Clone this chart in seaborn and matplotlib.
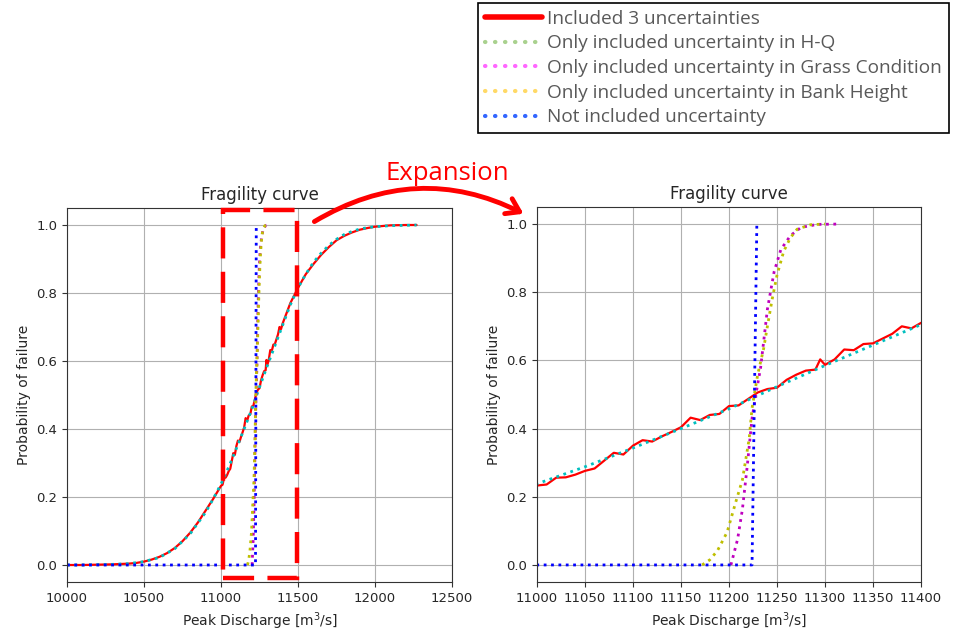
import numpy as np
import pandas as pd
import seaborn as sns
import matplotlib
matplotlib.use("Agg")
import matplotlib.pyplot as plt
from matplotlib.lines import Line2D
from matplotlib.patches import Rectangle, FancyArrowPatch

# ---- data ----
# all three uncertainties (red, solid)
q_all3 = [10000, 10100, 10200, 10300, 10400, 10450, 10500, 10550, 10600, 10650,
          10700, 10750, 10800, 10850, 10900, 10950,
          11000, 11010, 11020, 11030, 11040, 11050, 11060, 11070, 11080, 11090,
          11100, 11110, 11120, 11130, 11140, 11150, 11160, 11170, 11180, 11190,
          11200, 11210, 11220, 11230, 11240, 11250, 11260, 11270, 11280, 11290,
          11295, 11300, 11310, 11320, 11330, 11340, 11350, 11360, 11370, 11380,
          11390, 11400,
          11450, 11500, 11550, 11600, 11650, 11700, 11750, 11800, 11850, 11900,
          11950, 12000, 12050, 12100, 12200, 12270]
p_all3 = [0.0, 0.0, 0.001, 0.002, 0.004, 0.006, 0.010, 0.016, 0.024, 0.035,
          0.050, 0.070, 0.095, 0.125, 0.160, 0.195,
          0.233, 0.236, 0.256, 0.257, 0.265, 0.276, 0.283, 0.306, 0.329, 0.324,
          0.350, 0.366, 0.362, 0.377, 0.390, 0.404, 0.432, 0.425, 0.440, 0.443,
          0.466, 0.468, 0.487, 0.506, 0.516, 0.520, 0.543, 0.558, 0.570, 0.573,
          0.603, 0.587, 0.603, 0.632, 0.630, 0.648, 0.650, 0.664, 0.678, 0.700,
          0.694, 0.710,
          0.770, 0.815, 0.855, 0.885, 0.912, 0.935, 0.955, 0.968, 0.978, 0.986,
          0.991, 0.995, 0.997, 0.999, 1.0, 1.0]

# uncertainty in H-Q only (cyan dotted)
q_hq = [10000, 10100, 10200, 10300, 10400, 10500, 10600, 10700, 10800, 10900,
        10950, 11000, 11050, 11100, 11150, 11200, 11250, 11300, 11350, 11400,
        11450, 11500, 11550, 11600, 11650, 11700, 11750, 11800, 11850, 11900,
        11950, 12000, 12100, 12200, 12270]
p_hq = [0.0, 0.0, 0.001, 0.002, 0.004, 0.010, 0.022, 0.048, 0.092, 0.155,
        0.195, 0.238, 0.288, 0.343, 0.400, 0.458, 0.523, 0.585, 0.645, 0.705,
        0.765, 0.815, 0.855, 0.890, 0.917, 0.940, 0.958, 0.972, 0.981, 0.988,
        0.992, 0.995, 0.998, 0.999, 1.0]

# uncertainty in grass condition only (magenta dotted)
q_grass = [11202, 11209, 11214, 11219, 11224, 11228, 11233, 11240, 11247, 11254,
           11264, 11275, 11292, 11315]
p_grass = [0.0, 0.076, 0.164, 0.290, 0.430, 0.500, 0.580, 0.750, 0.860, 0.925,
           0.966, 0.990, 0.999, 1.0]

# uncertainty in bank height only (yellow dotted)
q_bank = [11172, 11180, 11188, 11198, 11207, 11214, 11221, 11224, 11230, 11236,
          11240, 11245, 11250, 11257, 11264, 11271, 11285, 11300]
p_bank = [0.0, 0.015, 0.042, 0.096, 0.184, 0.250, 0.370, 0.460, 0.560, 0.633,
          0.700, 0.780, 0.850, 0.920, 0.960, 0.985, 0.998, 1.0]

# no uncertainty (blue dotted)
q_none = [10000, 11224, 11229]
p_none = [0.0, 0.0, 1.0]

legend_labels = ["Included 3 uncertainties",
                 "Only included uncertainty in H-Q",
                 "Only included uncertainty in Grass Condition",
                 "Only included uncertainty in Bank Height",
                 "Not included uncertainty"]

sns.set_style("ticks")
plt.rcParams["font.family"] = ["DejaVu Sans"]

fig = plt.figure(figsize=(9.55, 6.35), dpi=100)
ax1 = fig.add_axes([67 / 955, 1 - 582 / 635, 385 / 955, 374 / 635])
ax2 = fig.add_axes([537 / 955, 1 - 582 / 635, 384 / 955, 375 / 635])

series = [
    (q_all3, p_all3, "red", "-", 1.6),
    (q_hq, p_hq, "c", ":", 2.0),
    (q_grass, p_grass, "m", ":", 2.0),
    (q_bank, p_bank, "y", ":", 2.0),
    (q_none, p_none, "b", ":", 2.0),
]

for ax in (ax1, ax2):
    for q, p, col, ls, lw in series:
        df = pd.DataFrame({"q": q, "p": p})
        sns.lineplot(data=df, x="q", y="p", ax=ax, color=col, linestyle=ls,
                     linewidth=lw, estimator=None, sort=False)
    ax.grid(True, color="#b0b0b0", linewidth=0.8)
    ax.set_ylim(-0.05, 1.05)
    ax.set_yticks([0.0, 0.2, 0.4, 0.6, 0.8, 1.0])
    ax.set_title("Fragility curve", fontsize=12)
    ax.set_xlabel("Peak Discharge [m$^3$/s]", fontsize=10)
    ax.set_ylabel("Probability of failure", fontsize=10)
    ax.tick_params(labelsize=9.5, length=3.5, color="#333333")
    for s in ax.spines.values():
        s.set_color("#333333")
        s.set_linewidth(0.8)

ax1.set_xlim(10000, 12500)
ax1.set_xticks([10000, 10500, 11000, 11500, 12000, 12500])
ax2.set_xlim(11000, 11400)
ax2.set_xticks(list(range(11000, 11401, 50)))

# zoom window marker on the left panel
ax1.add_patch(Rectangle((11013, -0.038), 480, 1.082, fill=False, ec="red",
                        lw=3.2, ls=(0, (7, 3)), clip_on=False, zorder=5))

# curved arrow + label
arrow = FancyArrowPatch((312 / 955, 1 - 223 / 635), (526 / 955, 1 - 215 / 635),
                        transform=fig.transFigure, connectionstyle="arc3,rad=-0.28",
                        arrowstyle="->,head_length=9,head_width=6", color="red",
                        lw=3.5)
fig.patches.append(arrow)
fig.text(447 / 955, 1 - 173 / 635, "Expansion", color="red", fontsize=18.5,
         family=["Open Sans", "DejaVu Sans"], ha="center", va="center")

handles = [
    Line2D([], [], color="red", lw=4, solid_capstyle="round"),
    Line2D([], [], color="#a9d18e", lw=3, ls=(0, (0.1, 2.3)), dash_capstyle="round"),
    Line2D([], [], color="#ff66ff", lw=3, ls=(0, (0.1, 2.3)), dash_capstyle="round"),
    Line2D([], [], color="#ffd966", lw=3, ls=(0, (0.1, 2.3)), dash_capstyle="round"),
    Line2D([], [], color="#3366ff", lw=3, ls=(0, (0.1, 2.3)), dash_capstyle="round"),
]
leg = fig.legend(handles, legend_labels, loc="upper left",
                 bbox_to_anchor=(478 / 955, 1 - 3 / 635), frameon=True,
                 fancybox=False, edgecolor="black", framealpha=1,
                 handlelength=3.0, handletextpad=0.3, labelspacing=0.35,
                 borderpad=0.35, borderaxespad=0,
                 prop={"family": ["Open Sans", "DejaVu Sans"], "size": 13.7})
leg.get_frame().set_linewidth(1.2)
for t in leg.get_texts():
    t.set_color("#595959")

fig.savefig("out.png", dpi=100)
